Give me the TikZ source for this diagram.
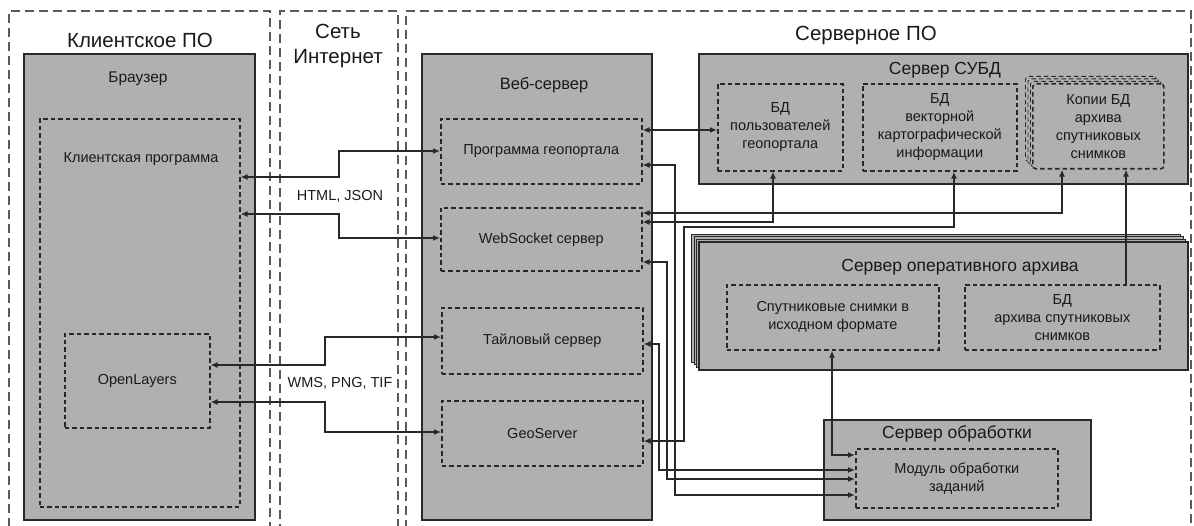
\documentclass[tikz,border=0pt]{standalone}
\usepackage{fontspec}
\setmainfont{Liberation Sans}
\usetikzlibrary{arrows.meta}
\definecolor{boxgray}{RGB}{176,176,176}
\definecolor{linedark}{RGB}{40,40,40}
\definecolor{framegray}{RGB}{90,90,90}
\definecolor{txt}{RGB}{25,25,25}
\begin{document}
\begin{tikzpicture}[x=1pt,y=-1pt,
  frame/.style={draw=framegray, line width=1.8pt, dash pattern=on 9pt off 5pt, inner sep=0pt, anchor=north west},
  solidbox/.style={draw=linedark, fill=boxgray, line width=1.8pt, inner sep=0pt, anchor=north west},
  backbox/.style={draw=linedark, fill=boxgray, line width=0.9pt, inner sep=0pt, anchor=north west},
  dbox/.style={draw=linedark, line width=1.6pt, dash pattern=on 4.5pt off 3pt, inner sep=0pt, anchor=north west, align=center, text=txt, font=\fontsize{14.5}{18}\selectfont},
  backd/.style={draw=linedark, fill=boxgray, line width=0.9pt, dash pattern=on 4.5pt off 3pt, rounded corners=3pt, inner sep=0pt, anchor=north west},
  bigt/.style={text=txt, font=\fontsize{20.5}{25}\selectfont, align=center, inner sep=0pt},
  midt/.style={text=txt, font=\fontsize{17.5}{20}\selectfont, align=center, inner sep=0pt},
  smt/.style={text=txt, font=\fontsize{14.5}{18}\selectfont, align=center, inner sep=0pt},
  conn/.style={draw=linedark, line width=1.5pt},
  bi/.style={conn, {Latex[length=7pt,width=6pt]}-{Latex[length=7pt,width=6pt]}},
  one/.style={conn, -{Latex[length=7pt,width=6pt]}}
]
\useasboundingbox (0,0) rectangle (1194,526);

% outer frames
\node[frame, minimum width=261pt, minimum height=525pt] (clientF) at (8,10) {};
\node[frame, minimum width=118pt, minimum height=525pt] (netF) at (279,10) {};
\node[frame, minimum width=785pt, minimum height=525pt] (serverF) at (405,10) {};
\node[bigt] (tClient) at (140,40) {Клиентское ПО};
\node[bigt] (tNet) at (338,46) {Сеть\\Интернет};
\node[bigt] (tServer) at (866,35) {Серверное ПО};

% client side
\node[solidbox, minimum width=231pt, minimum height=466pt] (browser) at (23,53) {};
\node[midt, font=\fontsize{15.5}{18}\selectfont] (tBrowser) at (138,79) {Браузер};
\node[dbox, minimum width=200pt, minimum height=388pt] (clientprog) at (39,118) {};
\node[smt] (tClientprog) at (141,159) {Клиентская программа};
\node[dbox, minimum width=145pt, minimum height=94pt] (openlayers) at (64,333) {OpenLayers};

% internet labels
\node[smt] (lHtml) at (340,196) {HTML, JSON};
\node[smt] (lWms) at (340,383) {WMS, PNG, TIF};

% web server
\node[solidbox, minimum width=230pt, minimum height=466pt] (web) at (421,53) {};
\node[midt, font=\fontsize{16.5}{19}\selectfont] (tWeb) at (544,85) {Веб-сервер};
\node[dbox, minimum width=201pt, minimum height=65pt] (geoportal) at (440,118) {Программа геопортала};
\node[dbox, minimum width=201pt, minimum height=63pt] (websocket) at (440,207) {WebSocket сервер};
\node[dbox, minimum width=201pt, minimum height=66pt] (tile) at (441,307) {Тайловый сервер};
\node[dbox, minimum width=201pt, minimum height=65pt] (geoserver) at (441,400) {GeoServer};

% DBMS server
\node[solidbox, minimum width=489pt, minimum height=130pt] (dbms) at (698,53) {};
\node[midt] (tDbms) at (945,70) {Сервер СУБД};
\node[dbox, minimum width=125pt, minimum height=87pt] (dbusers) at (717,83) {БД\\пользователей\\геопортала};
\node[dbox, minimum width=154pt, minimum height=87pt] (dbvector) at (862,83) {БД\\векторной\\картографической\\информации};
\node[backd, minimum width=131pt, minimum height=85pt] (copiesb3) at (1025,76) {};
\node[backd, minimum width=131pt, minimum height=85pt] (copiesb2) at (1027.5,78.5) {};
\node[backd, minimum width=131pt, minimum height=85pt] (copiesb1) at (1030,81) {};
\node[dbox, fill=boxgray, rounded corners=3pt, minimum width=131pt, minimum height=85pt] (copies) at (1032,83) {Копии БД\\архива\\спутниковых\\снимков};

% operational archive server (stacked)
\node[backbox, minimum width=489pt, minimum height=128pt] (archiveb3) at (691,234) {};
\node[backbox, minimum width=489pt, minimum height=128pt] (archiveb2) at (693.5,236.5) {};
\node[backbox, minimum width=489pt, minimum height=128pt] (archiveb1) at (696,239) {};
\node[solidbox, minimum width=489pt, minimum height=128pt] (archive) at (698,241) {};
\node[midt] (tArchive) at (960,267) {Сервер оперативного архива};
\node[dbox, minimum width=212pt, minimum height=65pt] (satimg) at (726,284) {Спутниковые снимки в\\исходном формате};
\node[dbox, minimum width=195pt, minimum height=65pt] (dbarchive) at (964,284) {БД\\архива спутниковых\\снимков};

% processing server
\node[solidbox, minimum width=267pt, minimum height=100pt] (proc) at (823,419) {};
\node[midt] (tProc) at (957,434) {Сервер обработки};
\node[dbox, minimum width=202pt, minimum height=59pt] (module) at (855,448) {Модуль обработки\\заданий};

% client <-> web server
\draw[bi] (clientprog.east |- 0,177) -- (339,177) |- (geoportal.west |- 0,151);
\draw[bi] (clientprog.east |- 0,214) -- (339,214) |- (websocket.west |- 0,238);
\draw[bi] (openlayers.east |- 0,365) -- (325,365) |- (tile.west |- 0,337);
\draw[bi] (openlayers.east |- 0,402) -- (325,402) |- (geoserver.west |- 0,432);

% web server <-> DBMS
\draw[bi] (geoportal.east |- 0,130) -- (dbusers.west |- 0,130);
\draw[bi] (websocket.east |- 0,213) -| (1062,0 |- copies.south);
\draw[bi] (websocket.east |- 0,222) -| (773,0 |- dbusers.south);
\draw[bi] (geoserver.east |- 0,441) -- (684,441) -- (684,227) -| (954,0 |- dbvector.south);

% web server <-> processing module
\draw[bi] (geoportal.east |- 0,165) -- (675,165) |- (module.west |- 0,495);
\draw[bi] (websocket.east |- 0,262) -- (667,262) |- (module.west |- 0,479);
\draw[bi] (tile.east |- 0,344) -- (659,344) |- (module.west |- 0,470);
\draw[bi] (832,0 |- satimg.south) |- (module.west |- 0,455);

% archive DB -> copies
\draw[one] (1126,0 |- dbarchive.north) -- (1126,0 |- copies.south);
\end{tikzpicture}
\end{document}
